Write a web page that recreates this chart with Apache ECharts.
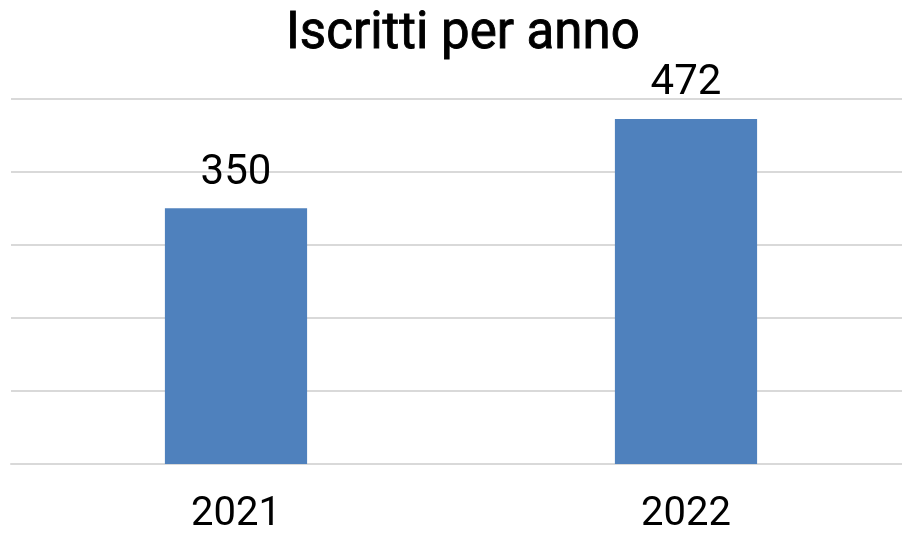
<!DOCTYPE html>
<html>
<head>
<meta charset="utf-8">
<script src="https://cdn.jsdelivr.net/npm/echarts@6/dist/echarts.min.js"></script>
<style>
  html, body { margin: 0; padding: 0; background: #fff; }
  #chart { width: 902px; height: 535px; }
</style>
</head>
<body>
<div id="chart"></div>
<script>
const years = ['2021', '2022']
const iscritti = [350, 472]

const chart = echarts.init(document.getElementById('chart'))
chart.setOption({
  animation: false,
  title: {
    text: 'Iscritti per anno',
    left: 281,
    top: 5,
    textStyle: {
      fontFamily: 'Roboto',
      fontSize: 51,
      fontWeight: 'normal',
      color: '#000',
      textBorderColor: '#000',
      textBorderWidth: 0.9
    }
  },
  grid: {
    left: 11,
    right: -9,
    top: 98.5,
    bottom: 71,
    outerBoundsMode: 'none'
  },
  xAxis: {
    type: 'category',
    data: years,
    axisTick: { show: false },
    axisLine: { lineStyle: { color: '#d9d9d9', width: 2 } },
    axisLabel: {
      margin: 31,
      fontFamily: 'Roboto',
      fontSize: 40,
      color: '#000'
    }
  },
  yAxis: {
    type: 'value',
    min: 0,
    max: 500,
    interval: 100,
    axisLabel: { show: false },
    axisLine: { show: false },
    axisTick: { show: false },
    splitLine: { lineStyle: { color: '#d9d9d9', width: 2 } }
  },
  series: [{
    type: 'bar',
    data: iscritti,
    barWidth: '31.6%',
    itemStyle: { color: '#4f81bd' },
    label: {
      show: true,
      position: 'top',
      distance: 14,
      fontFamily: 'Roboto',
      fontSize: 42,
      color: '#000'
    }
  }]
})
</script>
</body>
</html>
